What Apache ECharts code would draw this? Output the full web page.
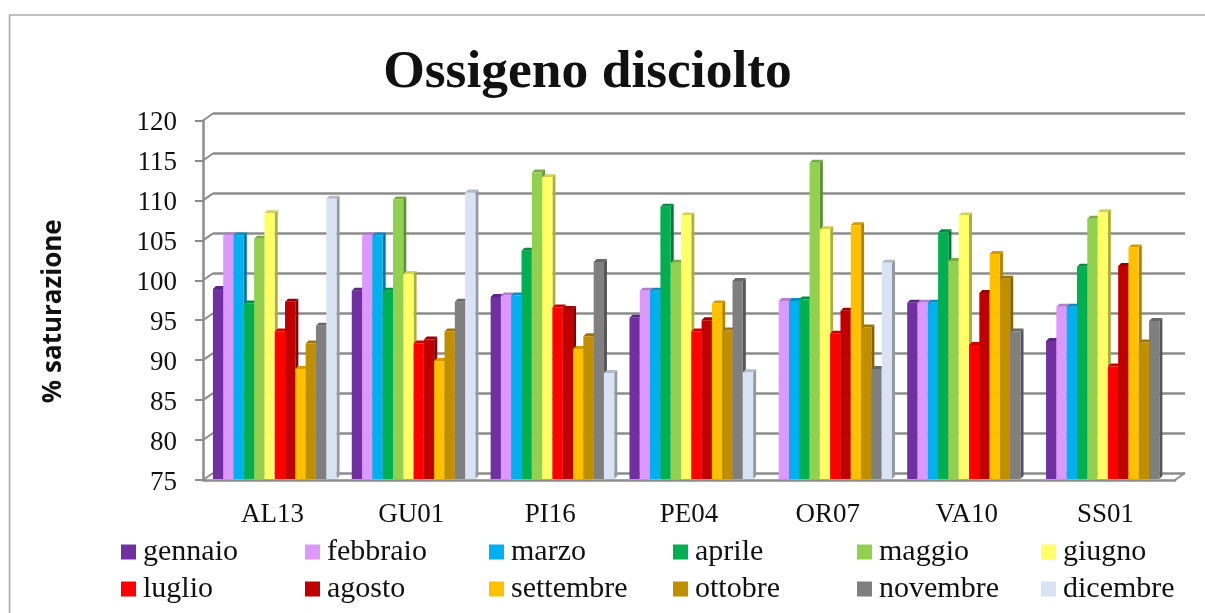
<!DOCTYPE html>
<html>
<head>
<meta charset="utf-8">
<style>html,body{margin:0;padding:0;background:#fff}#c{width:1205px;height:613px}</style>
<script src="https://cdn.jsdelivr.net/npm/echarts@6/dist/echarts.min.js"></script>
</head>
<body>
<div id="c"></div>
<script>
const stations = ['AL13','GU01','PI16','PE04','OR07','VA10','SS01'];
const months = ['gennaio','febbraio','marzo','aprile','maggio','giugno','luglio','agosto','settembre','ottobre','novembre','dicembre'];
const colors = ['#7030A0','#DC98FC','#00B0F0','#00B050','#92D050','#FFFF66','#FF0000','#C00000','#FFC000','#BF8F00','#7F7F7F','#DAE3F3'];
const gennaio   = [98.9, 98.7, 97.9, 95.3, null, 97.2, 92.4];
const febbraio  = [105.6,105.6, 98.1, 98.7, 97.4, 97.2, 96.7];
const marzo     = [105.6,105.6, 98.1, 98.7, 97.4, 97.2, 96.7];
const aprile    = [97.1, 98.7,103.7,109.2, 97.6,106.0,101.7];
const maggio    = [105.2,110.1,113.5,102.2,114.7,102.4,107.7];
const giugno    = [108.4,100.8,112.9,108.1,106.4,108.1,108.5];
const luglio    = [93.6, 92.1, 96.6, 93.6, 93.3, 91.9, 89.2];
const agosto    = [97.3, 92.6, 96.4, 95.0, 96.2, 98.4,101.8];
const settembre = [88.9, 89.9, 91.4, 97.1,106.9,103.3,104.1];
const ottobre   = [92.1, 93.6, 93.0, 93.7, 94.1,100.2, 92.2];
const novembre  = [94.3, 97.3,102.3, 99.9, 88.9, 93.6, 94.9];
const dicembre  = [110.2,111.0, 88.4, 88.5,102.2, null, null];
const seriesValues = [gennaio,febbraio,marzo,aprile,maggio,giugno,luglio,agosto,settembre,ottobre,novembre,dicembre];
const yTicks = [75,80,85,90,95,100,105,110,115,120];

const DX = 10, DY = 7, DEPTH = 3, GRAY = '#8C8C8C';
const chart = echarts.init(document.getElementById('c'), null, {renderer:'canvas'});
const serif = '"Liberation Serif", serif';

function shade(hex, k){
  const n = parseInt(hex.slice(1),16);
  return 'rgb(' + Math.round((n>>16&255)*k) + ',' + Math.round((n>>8&255)*k) + ',' + Math.round((n&255)*k) + ')';
}
function barRender(si){
  return function(params, api){
    const v = api.value(1);
    if (v == null || isNaN(v)) return;
    const band = api.size([1,0])[0];
    const w = band * 0.0742;
    const c = api.coord([api.value(0), v]);
    const base = api.coord([api.value(0), 75])[1] - 1;
    const x = c[0] + (si-6)*w + 2.3, y = c[1];
    const col = colors[si];
    return {type:'group', children:[
      {type:'polygon', shape:{points:[[x+w,y],[x+w+DEPTH,y-DEPTH],[x+w+DEPTH,base-DEPTH],[x+w,base]]}, style:{fill:shade(col,0.68)}},
      {type:'polygon', shape:{points:[[x,y],[x+DEPTH,y-DEPTH],[x+w+DEPTH,y-DEPTH],[x+w,y]]}, style:{fill:shade(col,0.82)}},
      {type:'rect', shape:{x:x,y:y,width:w,height:base-y}, style:{fill:col}}
    ]};
  };
}
function wallRender(params, api){
  const v = api.value(0);
  const cs = params.coordSys;
  const y = api.coord([0,v])[1];
  const kids = [{type:'line', shape:{x1:cs.x,y1:y,x2:cs.x+DX,y2:y-DY}, style:{stroke:GRAY,lineWidth:2}}];
  if (v === 75) kids.push({type:'line', shape:{x1:cs.x+cs.width,y1:y,x2:cs.x+cs.width+DX,y2:y-DY}, style:{stroke:GRAY,lineWidth:2}});
  return {type:'group', children:kids};
}
const series = [{
  type:'custom', name:'pareti', coordinateSystem:'cartesian2d', xAxisIndex:0, yAxisIndex:0,
  renderItem:wallRender, data:yTicks.map(v=>[v]), encode:{y:0}, silent:true, z:1
}];
months.forEach((m,si)=>{
  series.push({
    type:'custom', name:m, coordinateSystem:'cartesian2d', xAxisIndex:0, yAxisIndex:0,
    renderItem:barRender(si), itemStyle:{color:colors[si]},
    encode:{x:0,y:1}, z:3,
    data:seriesValues[si].map((v,i)=>[i,v])
  });
});
const legends = [];
for (let c=0;c<6;c++){
  legends.push({
    orient:'vertical', left:116+184*c, top:532, itemWidth:15, itemHeight:15, itemGap:7, icon:'rect',
    selectedMode:false, data:[months[c],months[c+6]],
    textStyle:{fontFamily:serif,fontSize:30,color:'#111',padding:[0,0,0,2]}
  });
}
chart.setOption({
  animation:false,
  backgroundColor:'#fff',
  title:{text:'Ossigeno disciolto',left:582.5,textAlign:'center',top:41,textStyle:{fontFamily:serif,fontSize:53.5,fontWeight:'bold',color:'#111'}},
  legend:legends,
  grid:[
    {left:203,top:120.5,width:972,height:359.5},
    {left:213,top:113.5,width:972,height:359.5}
  ],
  xAxis:[
    {type:'category',gridIndex:0,data:stations,
      axisLine:{lineStyle:{color:GRAY,width:2.5}},
      axisTick:{length:9,lineStyle:{color:GRAY,width:2}},
      axisLabel:{fontFamily:serif,fontSize:27,color:'#111',margin:21}},
    {type:'category',gridIndex:1,data:stations,show:false}
  ],
  yAxis:[
    {type:'value',gridIndex:0,min:75,max:120,interval:5,
      name:'% saturazione',nameLocation:'middle',nameGap:136,nameRotate:90,
      nameTextStyle:{fontFamily:'"Open Sans", sans-serif',fontWeight:'bold',fontSize:26,color:'#111',padding:[0,22,0,0]},
      axisLine:{show:true,lineStyle:{color:GRAY,width:2.5}},
      axisTick:{show:true,length:8,lineStyle:{color:GRAY,width:2}},
      splitLine:{show:false},
      axisLabel:{fontFamily:serif,fontSize:27,color:'#111',margin:26,verticalAlign:'top',lineHeight:5}},
    {type:'value',gridIndex:1,min:75,max:120,interval:5,
      axisLine:{show:false},axisTick:{show:false},axisLabel:{show:false},
      splitLine:{show:true,lineStyle:{color:GRAY,width:2.5}}}
  ],
  graphic:[{type:'polyline',silent:true,z:-1,shape:{points:[[9.5,613],[9.5,15],[1205,15]]},style:{stroke:'#ABABAB',lineWidth:1.6,fill:null}}],
  series:series
});
</script>
</body>
</html>
